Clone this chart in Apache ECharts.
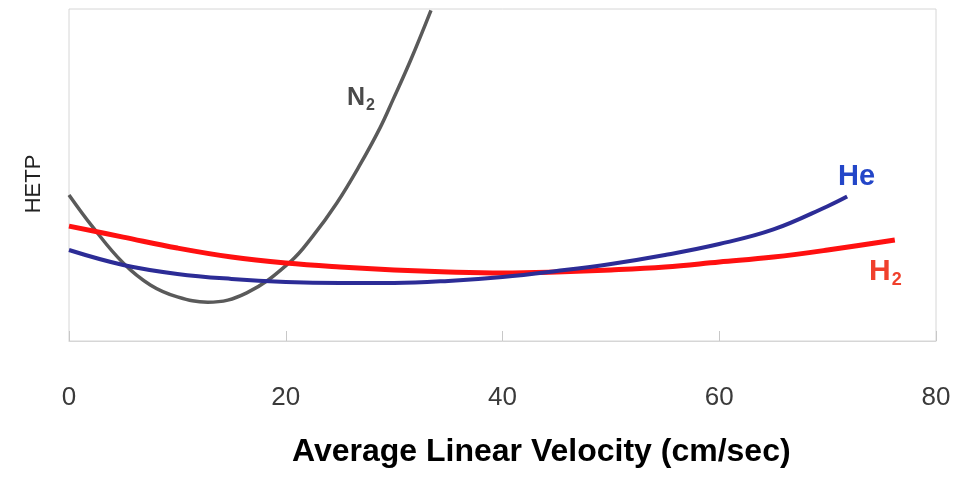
<!DOCTYPE html>
<html>
<head>
<meta charset="utf-8">
<script src="https://cdn.jsdelivr.net/npm/echarts@6/dist/echarts.min.js"></script>
<style>
  html, body { margin: 0; padding: 0; background: #fff; }
  #chart { width: 961px; height: 477px; }
</style>
</head>
<body>
<div id="chart"></div>
<script>
// x ticks
var xTicks = [0, 20, 40, 60, 80];

// N2 curve (velocity, HETP in relative units 0-100)
var n2Vel  = [0, 2.2, 5, 7.5, 10, 12.8, 16.4, 20.4, 22.5, 24.7, 26.8, 28.7, 29.9, 31.5, 33.4];
var n2Hetp = [44.0, 34.3, 23.5, 16.9, 13.3, 11.7, 14.5, 23.8, 31.6, 41.5, 52.8, 64.2, 72.7, 84.4, 99.6];

// He curve
var heVel  = [0, 5, 10, 15, 20, 25, 30, 35, 40, 45, 50, 55, 60, 65, 70, 71.8];
var heHetp = [27.4, 22.9, 20.2, 18.7, 17.8, 17.5, 17.5, 18.1, 19.3, 21.1, 23.2, 25.9, 29.2, 33.6, 40.6, 43.5];

// H2 curve
var h2Vel  = [0, 5, 10, 15, 20, 25, 30, 35, 40, 45, 50, 55, 60, 65, 70, 76.2];
var h2Hetp = [34.6, 31.3, 28.0, 25.3, 23.5, 22.3, 21.4, 20.8, 20.5, 20.8, 21.4, 22.3, 23.8, 25.3, 27.4, 30.4];

function pairs(xs, ys) {
  return xs.map(function (x, i) { return [x, ys[i]]; });
}

var chart = echarts.init(document.getElementById('chart'));
chart.setOption({
  animation: false,
  title: {
    text: 'Average Linear Velocity (cm/sec)',
    left: 287,
    top: 431,
    textStyle: {
      fontFamily: 'Liberation Sans, Arial, sans-serif',
      fontSize: 32,
      fontWeight: 'bold',
      color: '#000'
    }
  },
  grid: {
    left: 69, right: 25, top: 9, bottom: 136,
    show: true,
    borderColor: '#d6d6d6',
    borderWidth: 1
  },
  xAxis: {
    type: 'value',
    min: xTicks[0],
    max: xTicks[xTicks.length - 1],
    interval: 20,
    axisLine: { lineStyle: { color: '#d6d6d6', width: 1 } },
    axisTick: { show: true, inside: true, length: 10, lineStyle: { color: '#c8c8c8' } },
    splitLine: { show: false },
    axisLabel: {
      margin: 44,
      fontFamily: 'Liberation Sans, Arial, sans-serif',
      fontSize: 26,
      color: '#3a3a3a'
    }
  },
  yAxis: {
    type: 'value',
    min: 0,
    max: 100,
    name: 'HETP',
    nameLocation: 'middle',
    nameRotate: 90,
    nameGap: 24,
    nameTextStyle: {
      fontFamily: 'Liberation Sans, Arial, sans-serif',
      fontSize: 22,
      color: '#222',
      padding: [0, 18, 0, 0]
    },
    axisLine: { show: false },
    axisTick: { show: false },
    axisLabel: { show: false },
    splitLine: { show: false }
  },
  series: [
    {
      name: 'N2', type: 'line', smooth: 0.4, showSymbol: false,
      data: pairs(n2Vel, n2Hetp),
      lineStyle: { color: '#5a5a5a', width: 3.5 }
    },
    {
      name: 'H2', type: 'line', smooth: 0.4, showSymbol: false,
      data: pairs(h2Vel, h2Hetp),
      lineStyle: { color: '#ff1010', width: 5 }
    },
    {
      name: 'He', type: 'line', smooth: 0.4, showSymbol: false,
      data: pairs(heVel, heHetp),
      lineStyle: { color: '#2c2c96', width: 4 }
    }
  ],
  graphic: [
    {
      type: 'text', left: 347, top: 86,
      style: {
        text: '{m|N}{s|2}',
        rich: {
          m: { fontFamily: 'Liberation Sans, sans-serif', fontSize: 25, fontWeight: 'bold', fill: '#4a4a4a' },
          s: { fontFamily: 'Liberation Sans, sans-serif', fontSize: 16, fontWeight: 'bold', fill: '#4a4a4a', padding: [14, 0, 0, 1] }
        }
      }
    },
    {
      type: 'text', left: 838, top: 162,
      style: {
        text: 'He',
        fontFamily: 'Liberation Sans, Arial, sans-serif',
        fontSize: 29,
        fontWeight: 'bold',
        fill: '#2346c8'
      }
    },
    {
      type: 'text', left: 869, top: 257,
      style: {
        text: '{m|H}{s|2}',
        rich: {
          m: { fontFamily: 'Liberation Sans, sans-serif', fontSize: 30, fontWeight: 'bold', fill: '#f0402c' },
          s: { fontFamily: 'Liberation Sans, sans-serif', fontSize: 18, fontWeight: 'bold', fill: '#f0402c', padding: [16, 0, 0, 1] }
        }
      }
    }
  ]
});
</script>
</body>
</html>
